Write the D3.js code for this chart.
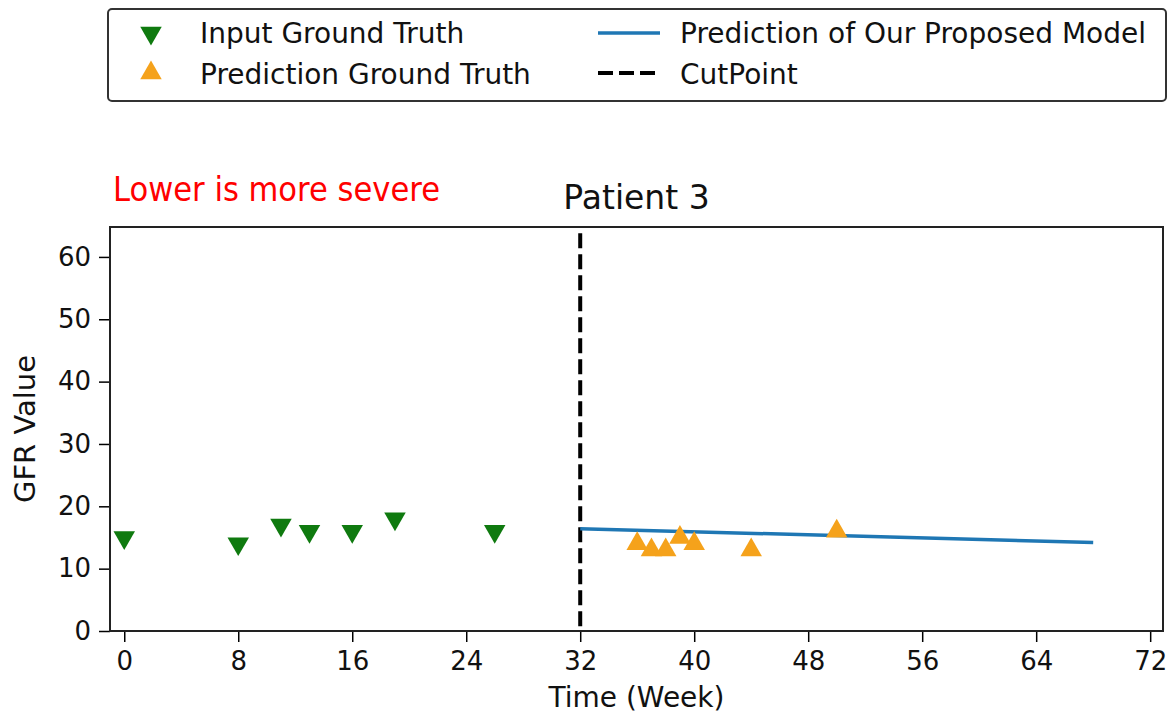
<!DOCTYPE html>
<head>
    <meta charset="UTF-8">
    <title>Patient 3</title>
    <style>
        body { margin: 0; background: #fff; }
        text { font-family: "DejaVu Sans", sans-serif; }
    </style>
</head>
<body>
    <script src="https://d3js.org/d3.v7.min.js"></script>
    <script>
        // data
        var inputWeeks = [0, 8, 11, 13, 16, 19, 26]
        var inputGFR = [15, 14, 17, 16, 16, 18, 16]
        var predWeeks = [36, 37, 38, 39, 40, 44, 50]
        var predGFR = [14, 13, 13, 15, 14, 13, 16]
        var modelWeeks = [32, 68]
        var modelGFR = [16.4, 14.2]
        var cutPoint = 32
        var xTicks = [0, 8, 16, 24, 32, 40, 48, 56, 64, 72]
        var yTicks = [0, 10, 20, 30, 40, 50, 60]

        var width = 1169
        var height = 716
        var plot = { left: 110, right: 1163, top: 227, bottom: 631 }

        var svg = d3.select("body")
            .append("svg")
            .attr("width", width)
            .attr("height", height)

        var x = d3.scaleLinear().domain([-1, 72.9]).range([plot.left, plot.right])
        var y = d3.scaleLinear().domain([0, 64.8]).range([plot.bottom, plot.top])

        // axes
        svg.append("g")
            .attr("transform", "translate(0," + plot.bottom + ")")
            .call(d3.axisBottom(x).tickValues(xTicks).tickSize(11).tickPadding(10))
        svg.append("g")
            .attr("transform", "translate(" + plot.left + ",0)")
            .call(d3.axisLeft(y).tickValues(yTicks).tickSize(11).tickPadding(8))
        svg.selectAll(".tick line").attr("stroke", "#000").attr("stroke-width", 1.5)
        svg.selectAll(".tick text").attr("font-size", "26px").attr("fill", "#111")
            .attr("font-family", "DejaVu Sans")
        svg.selectAll(".domain").remove()

        // frame
        svg.append("rect")
            .attr("x", plot.left).attr("y", plot.top)
            .attr("width", plot.right - plot.left)
            .attr("height", plot.bottom - plot.top)
            .attr("fill", "none").attr("stroke", "#222").attr("stroke-width", 2)

        // cut point
        svg.append("line")
            .attr("x1", x(cutPoint)).attr("x2", x(cutPoint))
            .attr("y1", y(63.8)).attr("y2", plot.bottom)
            .attr("stroke", "#000").attr("stroke-width", 4)
            .attr("stroke-dasharray", "15,6")

        // model prediction line
        var line = d3.line().x(function(d) { return x(d[0]) }).y(function(d) { return y(d[1]) })
        svg.append("path")
            .datum(d3.zip(modelWeeks, modelGFR))
            .attr("d", line)
            .attr("fill", "none").attr("stroke", "#1f77b4").attr("stroke-width", 3.5)

        var tri = d3.symbol().type(d3.symbolTriangle).size(200)

        svg.selectAll(".input")
            .data(d3.zip(inputWeeks, inputGFR))
            .enter()
            .append("path")
            .attr("class", "input")
            .attr("d", tri)
            .attr("fill", "#0f7a0f")
            .attr("transform", function(d) {
                return "translate(" + x(d[0]) + "," + y(d[1]) + ") rotate(180)"
            })

        svg.selectAll(".pred")
            .data(d3.zip(predWeeks, predGFR))
            .enter()
            .append("path")
            .attr("class", "pred")
            .attr("d", tri)
            .attr("fill", "#f5a21b")
            .attr("transform", function(d) {
                return "translate(" + x(d[0]) + "," + y(d[1]) + ")"
            })

        // labels
        svg.append("text")
            .attr("x", (plot.left + plot.right) / 2).attr("y", 209)
            .attr("text-anchor", "middle").attr("font-size", "33px").attr("fill", "#111")
            .text("Patient 3")
        svg.append("text")
            .attr("x", (plot.left + plot.right) / 2).attr("y", 707)
            .attr("text-anchor", "middle").attr("font-size", "28px").attr("fill", "#111")
            .text("Time (Week)")
        svg.append("text")
            .attr("transform", "translate(35," + (plot.top + plot.bottom) / 2 + ") rotate(-90)")
            .attr("text-anchor", "middle").attr("font-size", "29px").attr("fill", "#111")
            .text("GFR Value")
        svg.append("text")
            .attr("x", 113).attr("y", 201)
            .attr("font-family", "Lato").attr("font-size", "34px").attr("fill", "#ff0000")
            .attr("textLength", 327).attr("lengthAdjust", "spacingAndGlyphs")
            .text("Lower is more severe")

        // legend
        var legend = svg.append("g")
        legend.append("rect")
            .attr("x", 108).attr("y", 9).attr("width", 1058).attr("height", 92)
            .attr("rx", 4).attr("fill", "#fff").attr("stroke", "#333").attr("stroke-width", 2)
        legend.append("path").attr("d", tri).attr("fill", "#0f7a0f")
            .attr("transform", "translate(151,33) rotate(180)")
        legend.append("path").attr("d", tri).attr("fill", "#f5a21b")
            .attr("transform", "translate(151,73)")
        legend.append("line").attr("x1", 598).attr("x2", 660).attr("y1", 33).attr("y2", 33)
            .attr("stroke", "#1f77b4").attr("stroke-width", 3.5)
        legend.append("line").attr("x1", 598).attr("x2", 660).attr("y1", 73).attr("y2", 73)
            .attr("stroke", "#000").attr("stroke-width", 4).attr("stroke-dasharray", "15,6")
        var labels = [
            [200, 43, "Input Ground Truth"],
            [200, 84, "Prediction Ground Truth"],
            [680, 43, "Prediction of Our Proposed Model"],
            [680, 84, "CutPoint"]
        ]
        legend.selectAll(".lab")
            .data(labels)
            .enter()
            .append("text")
            .attr("class", "lab")
            .attr("x", function(d) { return d[0] })
            .attr("y", function(d) { return d[1] })
            .attr("font-size", "28px").attr("fill", "#111")
            .text(function(d) { return d[2] })
    </script>
</body>
</html>
